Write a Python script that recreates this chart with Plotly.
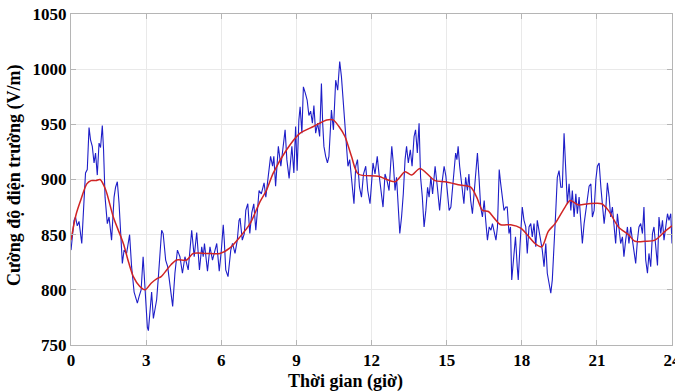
import plotly.graph_objects as go

# Blue: measured electric field (hours, V/m)
blue_t = [0.00,0.06,0.12,0.18,0.25,0.32,0.43,0.52,0.58,0.65,0.72,0.78,0.85,0.92,0.98,1.05,1.12,1.18,1.25,1.30,
          1.36,1.45,1.52,1.62,1.72,1.78,1.85,1.92,1.98,2.05,2.12,2.22,2.34,2.42,2.52,2.58,2.65,2.72,2.80,2.88,
          2.96,3.05,3.09,3.16,3.22,3.29,3.36,3.42,3.49,3.55,3.62,3.68,3.78,3.86,3.95,4.06,4.15,4.25,4.35,4.45,
          4.55,4.68,4.82,4.92,5.02,5.13,5.22,5.28,5.33,5.45,5.55,5.65,5.82,5.92,6.00,6.08,6.12,6.18,6.27,6.38,
          6.45,6.55,6.64,6.71,6.75,6.84,6.92,6.98,7.06,7.14,7.22,7.30,7.38,7.51,7.60,7.71,7.78,7.88,7.97,8.05,
          8.10,8.17,8.28,8.38,8.50,8.55,8.62,8.71,8.82,8.90,8.97,9.03,9.10,9.15,9.22,9.28,9.36,9.43,9.50,9.57,
          9.64,9.70,9.77,9.85,9.93,10.00,10.05,10.10,10.17,10.24,10.30,10.35,10.40,10.48,10.57,10.65,10.73,10.80,10.90,10.95,
          11.00,11.06,11.13,11.24,11.30,11.37,11.44,11.52,11.60,11.68,11.77,11.85,11.94,12.00,12.06,12.14,12.23,12.30,12.37,12.46,
          12.54,12.62,12.70,12.81,12.87,12.94,13.00,13.07,13.13,13.20,13.27,13.34,13.40,13.47,13.55,13.62,13.70,13.76,13.83,13.90,
          13.96,14.03,14.10,14.17,14.24,14.30,14.37,14.44,14.54,14.63,14.72,14.81,14.90,14.97,15.03,15.10,15.17,15.23,15.30,15.36,
          15.41,15.46,15.52,15.60,15.69,15.76,15.83,15.89,15.96,16.03,16.10,16.16,16.23,16.30,16.36,16.43,16.50,16.56,16.63,16.70,
          16.77,16.83,16.90,16.97,17.03,17.10,17.16,17.22,17.29,17.36,17.42,17.49,17.55,17.60,17.69,17.75,17.82,17.86,17.93,18.02,
          18.09,18.16,18.22,18.29,18.36,18.42,18.49,18.56,18.62,18.69,18.76,18.82,18.89,18.96,19.02,19.09,19.16,19.22,19.29,19.36,
          19.42,19.49,19.56,19.62,19.69,19.76,19.82,19.89,19.96,20.02,20.09,20.16,20.22,20.29,20.36,20.42,20.49,20.56,20.62,20.69,
          20.76,20.82,20.89,20.96,21.02,21.09,21.16,21.22,21.29,21.36,21.42,21.49,21.55,21.62,21.68,21.75,21.82,21.88,21.95,22.02,
          22.08,22.15,22.22,22.28,22.35,22.42,22.48,22.55,22.62,22.68,22.75,22.82,22.88,22.95,23.02,23.08,23.15,23.22,23.28,23.35,
          23.42,23.48,23.55,23.62,23.68,23.75,23.82,23.88,23.95,24.00]
blue_v = [836,850,863,866,858,862,842,881,906,909,947,936,930,915,924,904,933,929,949,927,
          884,860,866,845,884,893,898,878,848,824,836,833,850,821,798,793,788,794,800,830,
          803,766,763,785,798,774,782,791,812,835,854,851,827,821,803,785,815,836,830,815,
          830,818,854,830,852,818,839,830,842,817,839,827,842,817,835,859,845,818,812,836,
          842,833,845,863,865,845,851,872,878,851,870,878,854,890,887,897,884,905,921,912,
          921,894,930,912,933,945,918,901,930,906,948,908,954,966,942,984,978,972,958,962,
          951,967,942,951,939,987,951,930,921,915,921,945,963,945,990,981,1007,993,963,954,
          930,912,918,890,878,912,918,893,884,905,912,890,878,896,915,905,921,905,893,875,
          905,899,890,930,915,890,902,878,851,866,887,918,930,915,927,912,939,945,924,951,
          902,884,857,872,893,884,902,887,912,893,872,896,912,903,890,872,875,893,912,924,
          918,930,912,893,878,902,890,905,881,869,890,899,924,899,875,866,881,863,845,857,
          854,860,851,845,857,909,896,887,872,875,875,851,857,809,830,848,821,809,840,875,
          863,857,833,857,860,848,860,839,863,854,842,836,821,842,815,806,797,809,848,872,
          902,908,893,893,942,902,878,896,872,890,866,887,869,884,857,842,860,872,878,894,
          896,866,872,900,912,915,893,875,860,875,897,884,866,875,860,842,869,857,842,848,
          830,845,857,842,857,845,833,824,845,857,860,851,875,827,815,833,821,851,857,839,
          822,866,851,863,845,857,869,863,869,842]

# Red: smoothed trend
red_t = [0.0,0.2,0.4,0.63,0.8,1.0,1.16,1.38,1.69,2.09,2.3,2.49,2.75,2.96,3.2,3.42,3.6,3.82,4.0,4.22,
         4.62,4.88,5.42,5.95,6.35,6.75,7.15,7.55,7.8,8.08,8.61,9.15,9.68,10.21,10.47,10.7,10.94,11.2,11.47,12.27,
         12.94,13.34,13.6,13.94,14.53,14.94,15.54,15.96,16.2,16.43,16.67,16.9,17.16,17.56,17.96,18.53,18.8,19.06,19.33,19.73,
         19.93,20.26,20.66,21.19,21.46,21.86,22.26,22.52,22.92,23.32,23.72,24.0]
red_v = [845,868,882,896,899,899,900,891,866,842,825,812,803,800,806,810,812,818,823,827,
         827,833,833,833,838,848,860,880,890,906,927,942,948,954,954,948,939,921,905,903,
         898,907,904,910,899,898,895,893,884,872,871,865,859,859,856,842,839,853,860,875,
         881,877,878,878,872,857,850,844,844,845,853,858]

x_ticks = [0, 3, 6, 9, 12, 15, 18, 21, 24]
y_ticks = [750, 800, 850, 900, 950, 1000, 1050]

font_family = "Liberation Serif"

fig = go.Figure()
fig.add_trace(go.Scatter(x=blue_t, y=blue_v, mode="lines",
                         line=dict(color="#1e1ec8", width=1.1), showlegend=False))
fig.add_trace(go.Scatter(x=red_t, y=red_v, mode="lines",
                         line=dict(color="#d02424", width=1.5, shape="spline", smoothing=0.8),
                         showlegend=False))

axis_common = dict(showgrid=True, gridcolor="#e9e9e9", gridwidth=1,
                   showline=True, linecolor="#b5b5b5", linewidth=1, mirror="ticks",
                   ticks="inside", ticklen=5, tickcolor="#b5b5b5", zeroline=False,
                   automargin=False, ticklabeloverflow="allow",
                   tickfont=dict(family=font_family, size=17, color="black", weight="bold"))

fig.update_xaxes(range=[0, 24], tickvals=x_ticks, ticktext=[str(t) for t in x_ticks], **axis_common)
fig.update_yaxes(range=[750, 1050], tickvals=y_ticks, ticktext=[str(t) for t in y_ticks], **axis_common)

title_font = dict(family=font_family, size=18, color="black", weight="bold")
fig.add_annotation(text="Thời gian (giờ)", xref="paper", yref="paper",
                   x=0.456, y=-0.109, xanchor="center", yanchor="middle",
                   showarrow=False, font=title_font)
fig.add_annotation(text="Cường độ điện trường (V/m)", xref="paper", yref="paper",
                   x=-0.093, y=0.514, xanchor="center", yanchor="middle", textangle=-90,
                   showarrow=False, font=title_font)

fig.update_layout(width=675, height=392, margin=dict(l=71, r=3, t=14, b=47),
                  plot_bgcolor="white", paper_bgcolor="white")

fig.write_html("out.html", config={"displayModeBar": False},
               post_script="document.body.style.margin='0';document.body.style.overflow='hidden';")
